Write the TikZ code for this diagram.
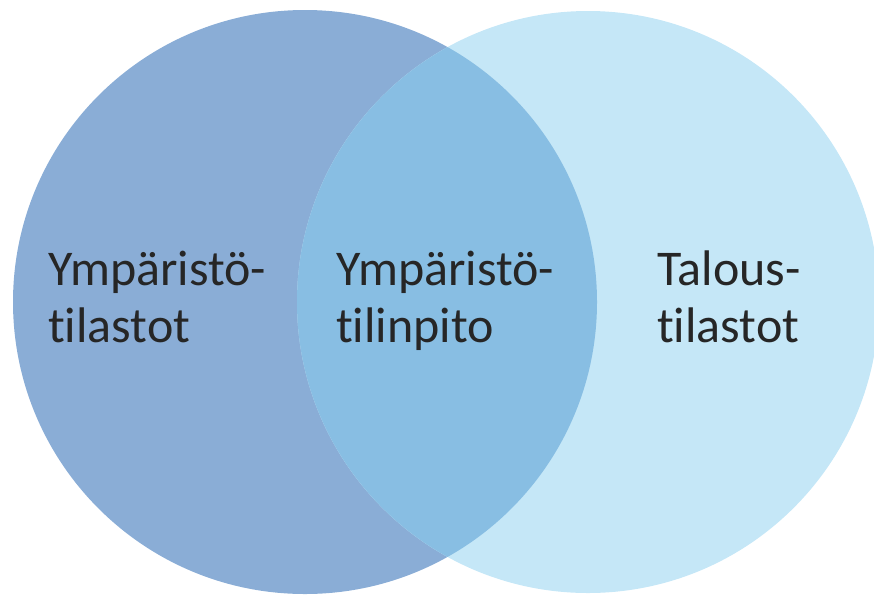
\documentclass[tikz,border=0pt]{standalone}
\usepackage{fontspec}
\setmainfont[Ligatures=NoCommon]{Carlito}
\definecolor{envblue}{HTML}{8AADD6}
\definecolor{econblue}{HTML}{C5E7F7}
\definecolor{mixblue}{HTML}{88BEE3}
\definecolor{labelgray}{HTML}{262626}
\tikzset{
  label text/.style={anchor=base west, align=left, text=labelgray,
    inner sep=0pt, font=\fontsize{50}{57}\selectfont}
}
\begin{document}
\begin{tikzpicture}[x=1pt,y=-1pt]
\useasboundingbox (0,0) rectangle (874,595);
\coordinate (envc) at (305,302);
\coordinate (econc) at (588,302);
\fill[envblue] (envc) circle (292);
\fill[econblue] (econc) circle (291);
\begin{scope}
\clip (envc) circle (292);
\fill[mixblue] (econc) circle (291);
\end{scope}
\node[label text] (envstat) at (48,342) {Ympäristö-\\tilastot};
\node[label text] (envacc) at (336,342) {Ympäristö-\\tilinpito};
\node[label text] (econstat) at (657,342) {Talous-\\tilastot};
\end{tikzpicture}
\end{document}
